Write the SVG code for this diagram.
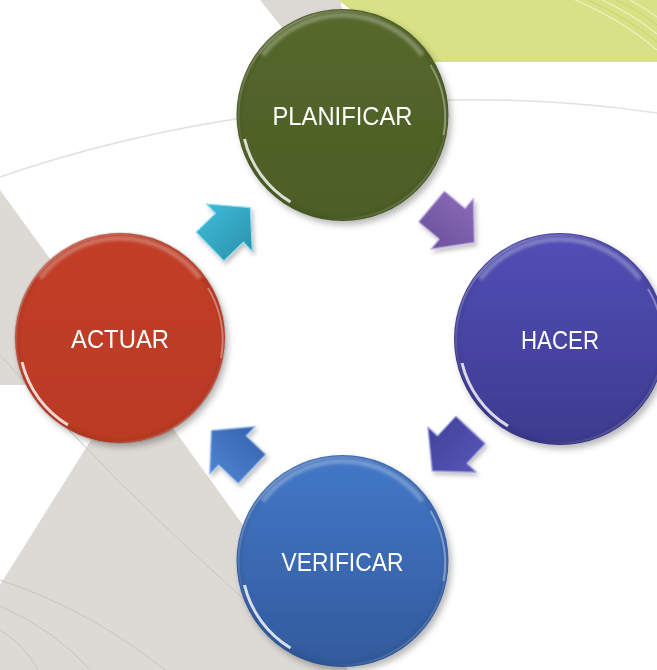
<svg xmlns="http://www.w3.org/2000/svg" xmlns:xlink="http://www.w3.org/1999/xlink" width="657" height="670" viewBox="0 0 657 670">
<style>
.lbl{font-family:"Liberation Sans","DejaVu Sans",sans-serif;font-size:25.5px;fill:#ffffff;text-anchor:middle}
.gline{fill:none;stroke:#c9c4bf;stroke-width:1}
.wline{fill:none;stroke:#e4e2e0;stroke-width:1.5}
.yl1{fill:none;stroke:#eef2c4;stroke-width:1.2}
.yl2{fill:none;stroke:#c6ce6c;stroke-width:0.8}
.arrow{stroke-width:1.2;stroke-linejoin:round}
</style>
<defs>
  <filter id="ds" x="-30%" y="-30%" width="160%" height="160%">
    <feDropShadow dx="3" dy="4" stdDeviation="3" flood-color="#000" flood-opacity="0.28"/>
  </filter>
  <filter id="dsa" x="-30%" y="-30%" width="160%" height="160%">
    <feDropShadow dx="2" dy="3" stdDeviation="2" flood-color="#000" flood-opacity="0.25"/>
  </filter>
  <filter id="b1" x="-20%" y="-20%" width="140%" height="140%"><feGaussianBlur stdDeviation="1.5"/></filter>
  <filter id="b05" x="-20%" y="-20%" width="140%" height="140%"><feGaussianBlur stdDeviation="0.7"/></filter>
  <linearGradient id="gGreen" x1="0" y1="0" x2="0" y2="1"><stop offset="0" stop-color="#55682b"/><stop offset="1" stop-color="#4c5e26"/></linearGradient>
  <linearGradient id="gRed" x1="0" y1="0" x2="0" y2="1"><stop offset="0" stop-color="#c23e28"/><stop offset="1" stop-color="#bb3a24"/></linearGradient>
  <linearGradient id="gPurple" x1="0" y1="0" x2="0" y2="1"><stop offset="0" stop-color="#524fb6"/><stop offset="1" stop-color="#3d3a8f"/></linearGradient>
  <linearGradient id="gBlue" x1="0" y1="0" x2="0" y2="1"><stop offset="0" stop-color="#4378c8"/><stop offset="1" stop-color="#325a9c"/></linearGradient>
  <radialGradient id="edge" cx="0.5" cy="0.5" r="0.5">
    <stop offset="0.92" stop-color="#000" stop-opacity="0"/>
    <stop offset="1" stop-color="#000" stop-opacity="0.1"/>
  </radialGradient>
  <linearGradient id="rim" x1="0" y1="0" x2="1" y2="1">
    <stop offset="0" stop-color="#fff" stop-opacity="0.35"/>
    <stop offset="0.4" stop-color="#fff" stop-opacity="0"/>
    <stop offset="0.7" stop-color="#fff" stop-opacity="0"/>
    <stop offset="1" stop-color="#fff" stop-opacity="0.3"/>
  </linearGradient>
  <g id="gloss">
    <circle r="106" fill="url(#edge)"/>
    <circle r="104" fill="none" stroke="url(#rim)" stroke-width="2"/>
    <path d="M-80,-60 A100,100 0 0 1 80,-60" fill="none" stroke="#fff" stroke-opacity="0.28" stroke-width="5" filter="url(#b1)"/>
    <path d="M-98,24 A101,101 0 0 0 -52,87" fill="none" stroke="#fff" stroke-opacity="0.8" stroke-width="3" filter="url(#b05)"/>
    <path d="M88,-50 A102,102 0 0 1 101,20" fill="none" stroke="#fff" stroke-opacity="0.35" stroke-width="2" filter="url(#b05)"/>
  </g>
  <polygon id="arw" points="0,-20 27,-20 27,-33 56,0 27,33 27,20 0,20"/>
  <linearGradient id="aCyan" x1="0" y1="0" x2="0" y2="1"><stop offset="0" stop-color="#3dbbd8"/><stop offset="1" stop-color="#2a93ae"/></linearGradient>
  <linearGradient id="aPurple" x1="0" y1="0" x2="0" y2="1"><stop offset="0" stop-color="#8a6bb8"/><stop offset="1" stop-color="#6c519c"/></linearGradient>
  <linearGradient id="aIndigo" x1="0" y1="0" x2="0" y2="1"><stop offset="0" stop-color="#5656b8"/><stop offset="1" stop-color="#42429a"/></linearGradient>
  <linearGradient id="aBlue" x1="0" y1="0" x2="0" y2="1"><stop offset="0" stop-color="#4d84d2"/><stop offset="1" stop-color="#3763ae"/></linearGradient>
</defs>

<!-- background -->
<rect width="657" height="670" fill="#ffffff"/>
<g id="background">
  <polygon points="260,0 340,0 352,50 300,50" fill="#dcd8d4"/>
  <polygon points="338,0 657,0 657,62 420,62" fill="#d8e185"/>
  <path class="yl1" d="M575,0 Q622,20 657,50"/>
  <path class="yl2" d="M588,0 Q628,18 657,42"/>
  <path class="yl1" d="M602,0 Q634,15 657,34"/>
  <path class="yl2" d="M616,0 Q640,11 657,25"/>
  <path class="yl1" d="M630,0 Q645,8 657,17"/>
  <polygon points="0,190 133,373 124,385 0,385" fill="#ddd9d5"/>
  <polygon points="133,373 348,670 0,670 0,585" fill="#ddd9d5"/>
  <path class="wline" d="M0,177 C170,118 420,78 657,113"/>
  <path class="gline" d="M0,355 Q110,480 250,605"/>
  <path class="gline" d="M0,580 Q90,610 165,670"/>
  <path class="gline" d="M0,606 Q55,630 90,670"/>
  <path class="gline" d="M0,630 Q25,645 38,670"/>
</g>

<!-- connectors -->
<g id="connectors" filter="url(#dsa)">
  <use xlink:href="#arw" class="arrow" fill="url(#aCyan)" stroke="#8fdcef" transform="translate(210,246.5) rotate(-44)"/>
  <use xlink:href="#arw" class="arrow" fill="url(#aPurple)" stroke="#c2aee0" transform="translate(431.5,206.5) rotate(40)"/>
  <use xlink:href="#arw" class="arrow" fill="url(#aIndigo)" stroke="#9c9ce0" transform="translate(470.5,430) rotate(133)"/>
  <use xlink:href="#arw" class="arrow" fill="url(#aBlue)" stroke="#9ec0ee" transform="translate(252,469) rotate(-136.5)"/>
</g>

<!-- nodes -->
<g id="planificar" transform="translate(342.5,115)">
  <circle r="106" fill="url(#gGreen)" filter="url(#ds)"/>
  <use xlink:href="#gloss"/>
  <text class="lbl" y="9.5" textLength="140" lengthAdjust="spacingAndGlyphs">PLANIFICAR</text>
</g>
<g id="hacer" transform="translate(560,339)">
  <circle r="106" fill="url(#gPurple)" filter="url(#ds)"/>
  <use xlink:href="#gloss"/>
  <text class="lbl" y="10" textLength="78" lengthAdjust="spacingAndGlyphs">HACER</text>
</g>
<g id="verificar" transform="translate(342.5,561)">
  <circle r="106" fill="url(#gBlue)" filter="url(#ds)"/>
  <use xlink:href="#gloss"/>
  <text class="lbl" y="9.5" textLength="122" lengthAdjust="spacingAndGlyphs">VERIFICAR</text>
</g>
<g id="actuar" transform="translate(120,338)">
  <circle r="105" fill="url(#gRed)" filter="url(#ds)"/>
  <use xlink:href="#gloss"/>
  <text class="lbl" y="10" textLength="98" lengthAdjust="spacingAndGlyphs">ACTUAR</text>
</g>
</svg>
